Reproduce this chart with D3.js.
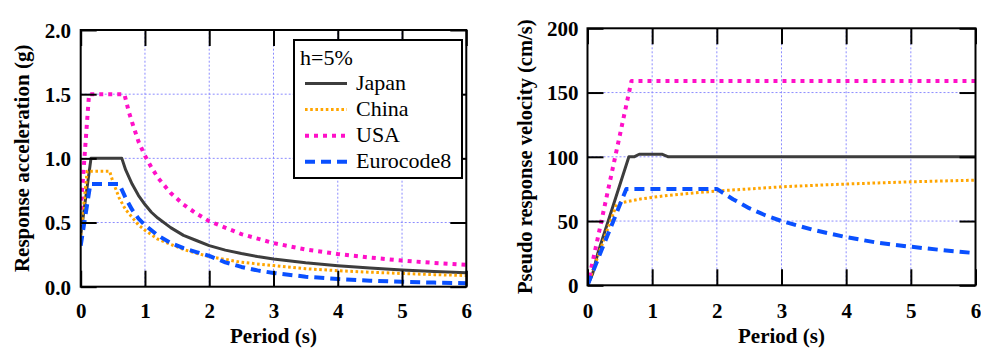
<!DOCTYPE html>
<html><head><meta charset="utf-8">
<script src="https://cdn.jsdelivr.net/npm/d3@7"></script>
<style>html,body{margin:0;padding:0;background:#fff;}svg{display:block;}</style>
</head><body>
<script>
// ---- Data ----
const xTicks = [0, 1, 2, 3, 4, 5, 6];
const accTicks = [0, 0.5, 1.0, 1.5, 2.0];
const velTicks = [0, 50, 100, 150, 200];
const seriesNames = ["Japan", "China", "USA", "Eurocode8"];
const legendTitle = "h=5%";

// Response acceleration (g) : [period s, Sa]
const japanAcc = [[0,0.40],[0.16,1.0],[0.64,1.0],[0.7,0.91],[0.8,0.80],[0.9,0.71],[1.0,0.64],[1.1,0.58],[1.2,0.535],[1.4,0.46],[1.6,0.40],[1.8,0.36],[2.0,0.32],[2.25,0.285],[2.5,0.258],[2.75,0.235],[3.0,0.216],[3.5,0.186],[4.0,0.163],[4.5,0.145],[5.0,0.13],[5.5,0.118],[6.0,0.108]];
const chinaAcc = [[0,0.40],[0.1,0.90],[0.45,0.90],[0.5,0.82],[0.6,0.69],[0.7,0.60],[0.8,0.54],[0.9,0.48],[1.0,0.44],[1.2,0.37],[1.4,0.33],[1.6,0.29],[1.8,0.26],[2.0,0.235],[2.5,0.19],[3.0,0.165],[3.5,0.14],[4.0,0.125],[4.5,0.113],[5.0,0.103],[5.5,0.094],[6.0,0.087]];
const usaAcc = [[0,0.60],[0.13,1.5],[0.68,1.5],[0.75,1.36],[0.8,1.28],[0.9,1.13],[1.0,1.02],[1.1,0.93],[1.2,0.85],[1.4,0.73],[1.6,0.64],[1.8,0.57],[2.0,0.51],[2.5,0.41],[3.0,0.34],[3.5,0.29],[4.0,0.255],[4.5,0.227],[5.0,0.204],[5.5,0.185],[6.0,0.17]];
const ec8Acc = [[0,0.32],[0.15,0.80],[0.6,0.80],[0.7,0.69],[0.8,0.60],[0.9,0.53],[1.0,0.48],[1.2,0.40],[1.4,0.34],[1.6,0.30],[1.8,0.27],[2.0,0.24],[2.25,0.19],[2.5,0.154],[2.75,0.127],[3.0,0.107],[3.5,0.078],[4.0,0.06],[4.5,0.047],[5.0,0.038],[5.5,0.032],[6.0,0.027]];

// Pseudo response velocity (cm/s) : [period s, PSv]
const japanVel = [[0,0],[0.08,9],[0.16,25],[0.64,100],[0.72,100],[0.8,102],[1.15,102],[1.25,100],[6.0,100]];
const chinaVel = [[0,0],[0.1,14],[0.45,63],[0.5,64],[0.6,65],[0.8,67],[1.0,68.4],[1.25,70],[1.5,71.2],[2.0,73.4],[2.5,75],[3.0,76.6],[3.5,77.8],[4.0,78.8],[4.5,79.7],[5.0,80.5],[5.5,81.2],[6.0,81.8]];
const usaVel = [[0,0],[0.13,30],[0.68,159],[6.0,159]];
const ec8Vel = [[0,0],[0.15,19],[0.6,75],[2.0,75],[2.25,67],[2.5,60],[2.75,54.5],[3.0,50],[3.5,43],[4.0,37.5],[4.5,33],[5.0,30],[5.5,27.3],[6.0,25]];

// ---- Styles ----
const styles = {
  Japan:     {color:"#3d3d3d", width:3,   dash:null},
  China:     {color:"#FFA500", width:3,   dash:"2.6,2.6"},
  USA:       {color:"#FF10C8", width:4,   dash:"4,5"},
  Eurocode8: {color:"#0A50FF", width:4,   dash:"10,6"}
};
const FONT = "'Liberation Serif','Times New Roman',serif";

const W = 981, H = 349;
const svg = d3.select("body").append("svg").attr("width", W).attr("height", H);

function panel(cfg) {
  const x = d3.scaleLinear().domain([0, 6]).range([cfg.x0, cfg.x1]);
  const y = d3.scaleLinear().domain(cfg.yDomain).range([cfg.y0, cfg.y1]);
  const g = svg.append("g");

  // grid
  g.append("g").selectAll("line").data(xTicks.slice(1, -1)).join("line")
    .attr("x1", d => x(d)).attr("x2", d => x(d)).attr("y1", cfg.y0).attr("y2", cfg.y1)
    .attr("stroke", "#8c8cff").attr("stroke-width", 1).attr("stroke-dasharray", "2,2");
  g.append("g").selectAll("line").data(cfg.yTicks.slice(1, -1)).join("line")
    .attr("y1", d => y(d)).attr("y2", d => y(d)).attr("x1", cfg.x0).attr("x2", cfg.x1)
    .attr("stroke", "#8c8cff").attr("stroke-width", 1).attr("stroke-dasharray", "2,2");

  // clip
  const cid = "clip" + cfg.id;
  svg.append("clipPath").attr("id", cid).append("rect")
    .attr("x", cfg.x0).attr("y", cfg.y1).attr("width", cfg.x1 - cfg.x0).attr("height", cfg.y0 - cfg.y1);

  const line = d3.line().x(d => x(d[0])).y(d => y(d[1]));
  const cg = g.append("g").attr("clip-path", `url(#${cid})`);
  seriesNames.forEach((name, i) => {
    const s = styles[name];
    cg.append("path").datum(cfg.series[i]).attr("d", line)
      .attr("fill", "none").attr("stroke", s.color).attr("stroke-width", s.width)
      .attr("stroke-dasharray", s.dash).attr("stroke-linejoin", "round");
  });

  // axes with inward ticks on all sides
  const tl = 16;
  const bottom = d3.axisBottom(x).tickValues(xTicks).tickSizeInner(-tl).tickSizeOuter(0).tickPadding(tl + 10).tickFormat(d3.format("d"));
  const top = d3.axisTop(x).tickValues(xTicks).tickSizeInner(-tl).tickSizeOuter(0).tickFormat("");
  const left = d3.axisLeft(y).tickValues(cfg.yTicks).tickSizeInner(-tl).tickSizeOuter(0).tickPadding(tl + 10).tickFormat(cfg.fmt);
  const right = d3.axisRight(y).tickValues(cfg.yTicks).tickSizeInner(-tl).tickSizeOuter(0).tickFormat("");

  const axes = [
    g.append("g").attr("transform", `translate(0,${cfg.y0})`).call(bottom),
    g.append("g").attr("transform", `translate(0,${cfg.y1})`).call(top),
    g.append("g").attr("transform", `translate(${cfg.x0},0)`).call(left),
    g.append("g").attr("transform", `translate(${cfg.x1},0)`).call(right)
  ];
  axes.forEach(a => {
    a.select(".domain").remove();
    a.selectAll(".tick line").attr("stroke", "#000").attr("stroke-width", 2);
    a.selectAll("text").attr("font-family", FONT).attr("font-weight", "bold").attr("font-size", 21).attr("fill", "#000");
  });
  axes[0].selectAll("text").attr("dy", null).attr("y", 318 - cfg.y0).attr("dominant-baseline", null);
  axes[2].selectAll("text").attr("x", cfg.labelRight - cfg.x0).attr("dy", "0.35em");

  // border
  g.append("rect").attr("x", cfg.x0).attr("y", cfg.y1).attr("width", cfg.x1 - cfg.x0).attr("height", cfg.y0 - cfg.y1)
    .attr("fill", "none").attr("stroke", "#000").attr("stroke-width", 2);

  // titles
  g.append("text").attr("x", (cfg.x0 + cfg.x1) / 2).attr("y", 343).attr("text-anchor", "middle")
    .attr("font-family", FONT).attr("font-weight", "bold").attr("font-size", 21).text("Period (s)");
  g.append("text").attr("transform", `translate(${cfg.ytx},${(cfg.y0 + cfg.y1) / 2}) rotate(-90)`)
    .attr("text-anchor", "middle").attr("font-family", FONT).attr("font-weight", "bold").attr("font-size", cfg.ytSize)
    .text(cfg.yTitle);
  return g;
}

panel({id: "L", x0: 80.7, x1: 466.3, y0: 286.7, y1: 30, yDomain: [0, 2], yTicks: accTicks,
  fmt: d3.format(".1f"), labelRight: 71, ytx: 29, ytSize: 21, yTitle: "Response acceleration (g)",
  series: [japanAcc, chinaAcc, usaAcc, ec8Acc]});
panel({id: "R", x0: 587.5, x1: 975.5, y0: 285.3, y1: 28.3, yDomain: [0, 200], yTicks: velTicks,
  fmt: d3.format("d"), labelRight: 578.5, ytx: 532, ytSize: 20.5, yTitle: "Pseudo response velocity (cm/s)",
  series: [japanVel, chinaVel, usaVel, ec8Vel]});

// legend
const lg = svg.append("g");
lg.append("rect").attr("x", 294).attr("y", 40).attr("width", 168).attr("height", 138)
  .attr("fill", "#fff").attr("stroke", "#000").attr("stroke-width", 2);
lg.append("text").attr("x", 300).attr("y", 65).attr("font-family", FONT).attr("font-size", 22).text(legendTitle);
seriesNames.forEach((name, i) => {
  const s = styles[name];
  const yy = 83.5 + i * 26.1;
  lg.append("line").attr("x1", 305).attr("x2", 347).attr("y1", yy).attr("y2", yy)
    .attr("stroke", s.color).attr("stroke-width", s.width).attr("stroke-dasharray", s.dash);
  lg.append("text").attr("x", 356).attr("y", yy + 6.5).attr("font-family", FONT).attr("font-size", 22).text(name);
});
</script>
</body></html>
